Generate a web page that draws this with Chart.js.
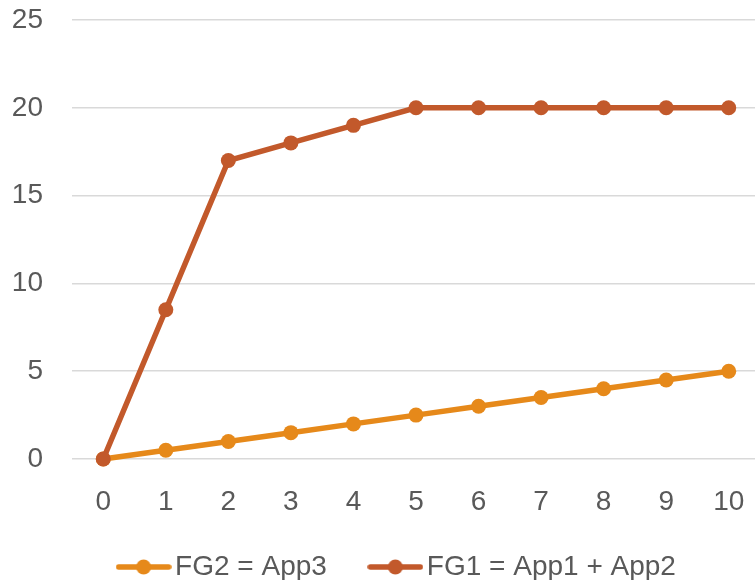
<!DOCTYPE html>
<html>
<head>
<meta charset="utf-8">
<script src="https://cdn.jsdelivr.net/npm/chart.js@4/dist/chart.umd.min.js"></script>
<style>
  html, body { margin: 0; padding: 0; background: #ffffff; }
  #wrap { width: 755px; height: 580px; overflow: hidden; position: relative; }
  #c { position: absolute; left: 0; top: 0; }
</style>
</head>
<body>
<div id="wrap"><canvas id="c" width="760" height="580"></canvas></div>
<script>
// Categories along the horizontal axis
const categories = ['0', '1', '2', '3', '4', '5', '6', '7', '8', '9', '10'];

// Series values
const fg2Label = 'FG2 = App3';
const fg2Values = [0, 0.5, 1, 1.5, 2, 2.5, 3, 3.5, 4, 4.5, 5];

const fg1Label = 'FG1 = App1 + App2';
const fg1Values = [0, 8.5, 17, 18, 19, 20, 20, 20, 20, 20, 20];

// Value axis ticks
const yTicks = [0, 5, 10, 15, 20, 25];

const FG2_COLOR = '#E6891A';
const FG1_COLOR = '#C2592B';
const TEXT_COLOR = '#595959';
const FONT = { family: '"Liberation Sans", Arial, sans-serif', size: 28 };

// Legend marker: a short line with a dot in its middle
function legendMarker(color) {
  const cv = document.createElement('canvas');
  cv.width = 56; cv.height = 18;
  const g = cv.getContext('2d');
  g.strokeStyle = color;
  g.lineWidth = 5.5;
  g.lineCap = 'round';
  g.beginPath(); g.moveTo(3, 9); g.lineTo(53, 9); g.stroke();
  g.fillStyle = color;
  g.beginPath(); g.arc(28, 9, 7.5, 0, Math.PI * 2); g.fill();
  return cv;
}

// Move the legend row a little right and up from where the layout puts it
const legendShift = {
  id: 'legendShift',
  afterLayout(chart) {
    const lg = chart.legend;
    if (lg) { lg.left += 21; lg.right += 21; lg.top -= 19; lg.bottom -= 19; }
  }
};

function series(label, values, color, order) {
  return {
    label: label,
    data: values,
    borderColor: color,
    backgroundColor: color,
    borderWidth: 5.5,
    pointRadius: 7.5,
    pointHoverRadius: 7.5,
    pointBackgroundColor: color,
    pointBorderWidth: 0,
    pointStyle: 'circle',
    tension: 0,
    clip: false,
    order: order
  };
}

const ctx = document.getElementById('c');
new Chart(ctx, {
  type: 'line',
  plugins: [legendShift],
  data: {
    labels: categories,
    datasets: [
      series(fg2Label, fg2Values, FG2_COLOR, 1),
      series(fg1Label, fg1Values, FG1_COLOR, 0)
    ]
  },
  options: {
    responsive: false,
    animation: false,
    devicePixelRatio: 1,
    layout: { autoPadding: false, padding: { top: 20, right: 0, bottom: -30, left: 0 } },
    plugins: {
      tooltip: { enabled: false },
      legend: {
        position: 'bottom',
        labels: {
          color: TEXT_COLOR,
          font: FONT,
          usePointStyle: true,
          pointStyleWidth: 35,
          boxHeight: 18,
          padding: 51,
          sort: (a, b) => a.datasetIndex - b.datasetIndex,
          generateLabels: (chart) => chart.data.datasets.map((ds, i) => ({
            text: ds.label,
            datasetIndex: i,
            fontColor: TEXT_COLOR,
            pointStyle: legendMarker(ds.borderColor),
            hidden: !chart.isDatasetVisible(i),
            lineWidth: 0,
            strokeStyle: 'transparent',
            fillStyle: 'transparent'
          }))
        }
      }
    },
    scales: {
      x: {
        type: 'category',
        offset: true,
        grid: { display: false, drawTicks: false },
        border: { display: false },
        afterFit: (axis) => { axis.height = 62; axis.paddingLeft = 0; axis.paddingRight = 0; },
        ticks: { color: TEXT_COLOR, font: FONT, padding: 26, maxRotation: 0, autoSkip: false }
      },
      y: {
        min: 0,
        max: 25,
        afterBuildTicks: (axis) => { axis.ticks = yTicks.map(v => ({ value: v })); },
        afterFit: (axis) => { axis.width = 72; axis.paddingTop = 0; axis.paddingBottom = 0; },
        grid: { color: '#D9D9D9', lineWidth: 1.5, drawTicks: false },
        border: { display: false },
        ticks: { color: TEXT_COLOR, font: FONT, padding: 29 }
      }
    }
  }
});
</script>
</body>
</html>
